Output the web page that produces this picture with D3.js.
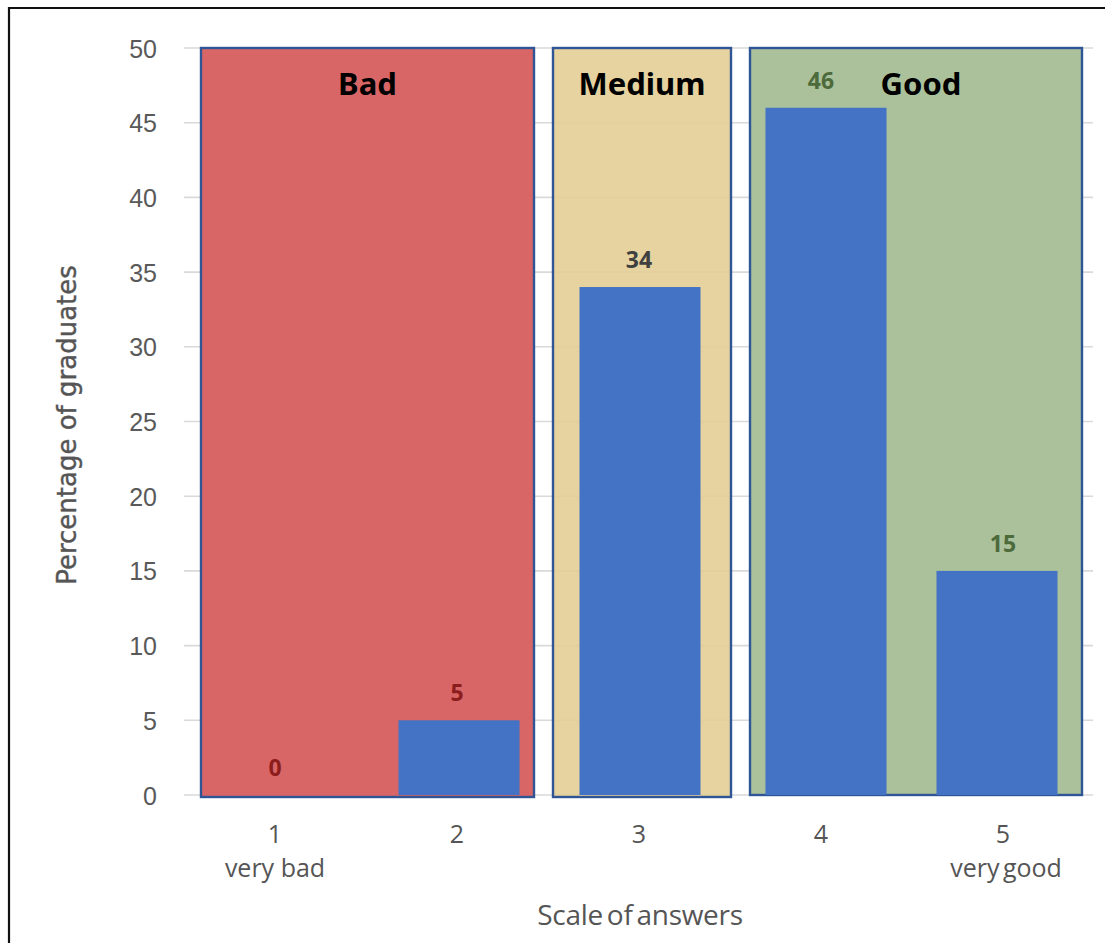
<!DOCTYPE html>
<html>
<head>
<meta charset="utf-8">
<script src="https://cdn.jsdelivr.net/npm/d3@7"></script>
<style>
  html, body { margin: 0; padding: 0; background: #fff; }
  svg { display: block; }
</style>
</head>
<body>
<script>
// Survey answers: share of graduates per point on a 1–5 scale
const categories = ["1", "2", "3", "4", "5"];
const subLabels = ["very bad", "", "", "", "very good"];
const percentages = [0, 5, 34, 46, 15];
const yTicks = [0, 5, 10, 15, 20, 25, 30, 35, 40, 45, 50];

// Rating groups spanning the scale
const groupNames = ["Bad", "Medium", "Good"];
const groupFirst = ["1", "3", "4"];
const groupLast = ["2", "3", "5"];

// Presentation
const groupFill = ["#d96666", "rgba(226,205,146,0.88)", "#aac19b"];
const groupPad = [[74, 77], [86, 92], [71, 79]];   // px beyond first/last category centre
const barNudge = [0, 2, 1, 5, -6];                 // px shift of each bar from its band
const labelColor = ["#8b1d1d", "#8b1d1d", "#404040", "#4d6a3b", "#4d6a3b"];

const W = 1105, H = 943;
const svg = d3.select("body").append("svg").attr("width", W).attr("height", H);

const x = d3.scaleBand().domain(categories).range([184, 1094])
  .paddingInner(0.335).paddingOuter(0.1675);
const y = d3.scaleLinear().domain([0, 50]).range([795, 48]);
const cx = c => x(c) + x.bandwidth() / 2;

// outer frame (top and left edges)
svg.append("path").attr("d", `M9,${H} V8 H${W}`)
  .attr("fill", "none").attr("stroke", "#111").attr("stroke-width", 2.2);

// horizontal grid
svg.append("g").selectAll("line").data(yTicks).join("line")
  .attr("x1", 184).attr("x2", 1093)
  .attr("y1", d => y(d)).attr("y2", d => y(d))
  .attr("stroke", "#d9d9d9").attr("stroke-width", 1.6);

// y axis labels
const yAxis = d3.axisLeft(y).tickValues(yTicks).tickSize(0).tickPadding(0);
const gy = svg.append("g").attr("transform", "translate(157,0)").call(yAxis);
gy.select(".domain").remove();
gy.selectAll("text")
  .attr("font-family", "'Liberation Sans', Arial, sans-serif")
  .attr("font-size", 25).attr("fill", "#595959").attr("dy", "0.36em");

// group panels
const groups = groupNames.map((name, i) => ({
  name,
  x0: cx(groupFirst[i]) - groupPad[i][0],
  x1: cx(groupLast[i]) + groupPad[i][1],
  fill: groupFill[i]
}));
const gg = svg.append("g");
gg.selectAll("rect").data(groups).join("rect")
  .attr("x", d => d.x0).attr("y", y(50))
  .attr("width", d => d.x1 - d.x0)
  .attr("height", (d, i) => y(0) - y(50) + (i === 2 ? 0 : 2))
  .attr("fill", d => d.fill)
  .attr("stroke", "#2f5597").attr("stroke-width", 2.4);

// bars
svg.append("g").selectAll("rect").data(categories).join("rect")
  .attr("x", (c, i) => x(c) + barNudge[i]).attr("width", x.bandwidth())
  .attr("y", (c, i) => y(percentages[i]))
  .attr("height", (c, i) => y(0) - y(percentages[i]))
  .attr("fill", "#4472c4");

// group titles
gg.selectAll("text").data(groups).join("text")
  .attr("x", d => (d.x0 + d.x1) / 2 + (d.name === "Good" ? 5 : 0))
  .attr("y", 95)
  .attr("text-anchor", "middle")
  .attr("font-family", "'Noto Sans', 'Open Sans', sans-serif")
  .attr("font-weight", 700).attr("font-size", 31).attr("fill", "#000")
  .text(d => d.name);

// value labels
svg.append("g").selectAll("text").data(categories).join("text")
  .attr("x", c => cx(c))
  .attr("y", (c, i) => y(percentages[i]) - 19)
  .attr("text-anchor", "middle")
  .attr("font-family", "'Noto Sans', 'Open Sans', sans-serif")
  .attr("font-weight", 700).attr("font-size", 23)
  .attr("fill", (c, i) => labelColor[i])
  .text((c, i) => percentages[i]);

// x axis labels
const gx = svg.append("g");
gx.selectAll("text.num").data(categories).join("text").attr("class", "num")
  .attr("x", c => cx(c)).attr("y", 843)
  .attr("text-anchor", "middle")
  .attr("font-family", "'Open Sans', sans-serif")
  .attr("font-size", 25).attr("fill", "#555")
  .text(c => c);
gx.selectAll("text.sub").data(categories.filter((c, i) => subLabels[i]))
  .join("text").attr("class", "sub")
  .attr("x", c => cx(c) + (c === "5" ? 3 : 0)).attr("y", 877)
  .attr("text-anchor", "middle")
  .attr("font-family", "'Open Sans', sans-serif")
  .attr("font-size", 25).attr("fill", "#555")
  .attr("word-spacing", c => c === "5" ? -3 : 0)
  .text(c => subLabels[categories.indexOf(c)]);

// axis titles
svg.append("text")
  .attr("x", 640).attr("y", 925)
  .attr("text-anchor", "middle")
  .attr("font-family", "'Open Sans', sans-serif")
  .attr("font-size", 28).attr("fill", "#555")
  .attr("letter-spacing", -0.3).attr("word-spacing", -3)
  .text("Scale of answers");

svg.append("text")
  .attr("transform", "translate(76,425) rotate(-90)")
  .attr("text-anchor", "middle")
  .attr("font-family", "'DejaVu Sans', sans-serif")
  .attr("font-size", 26).attr("fill", "#555")
  .attr("stroke", "#555").attr("stroke-width", 0.4)
  .text("Percentage of graduates");
</script>
</body>
</html>
